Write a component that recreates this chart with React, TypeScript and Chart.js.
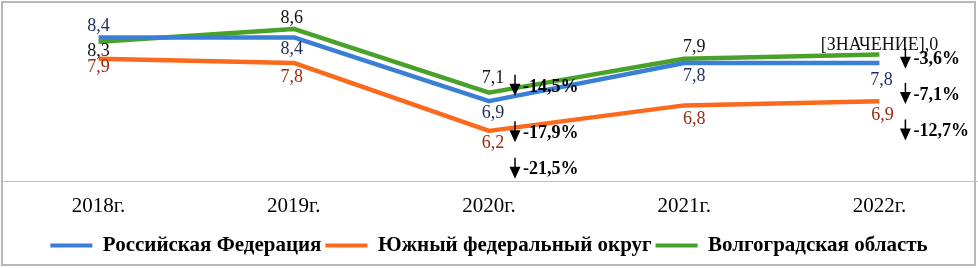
import React, { useEffect, useRef } from "react";
import { Chart, registerables } from "chart.js";

Chart.register(...registerables);

const FONT = "'Liberation Serif', 'Times New Roman', serif";

const CATEGORIES = ["2018г.", "2019г.", "2020г.", "2021г.", "2022г."];
const SERIES_NAMES = ["Российская Федерация", "Южный федеральный округ", "Волгоградская область"];

const RF_VALUES = [8.4, 8.4, 6.9, 7.8, 7.8];
const UFO_VALUES = [7.9, 7.8, 6.2, 6.8, 6.9];
const VOLG_VALUES = [8.3, 8.6, 7.1, 7.9, 8.0];

// data label texts (the last Volgograd label is broken in the source chart)
const RF_LABELS = ["8,4", "8,4", "6,9", "7,8", "7,8"];
const UFO_LABELS = ["7,9", "7,8", "6,2", "6,8", "6,9"];
const VOLG_LABELS = ["8,3", "8,6", "7,1", "7,9", "[ЗНАЧЕНИЕ],0"];

// change annotations: category index, text, value level
const CHANGE_CATEGORY = [2, 2, 2, 4, 4, 4];
const CHANGE_TEXT = ["-14,5%", "-17,9%", "-21,5%", "-3,6%", "-7,1%", "-12,7%"];
const CHANGE_LEVEL = [7.26, 6.17, 5.31, 7.9, 7.07, 6.21];

const Y_MIN = 5;
const Y_MAX = 9;

const COLORS = ["#3a7fd5", "#fb6a1c", "#49a12a"];
const LABEL_COLORS = ["#1f2d5e", "#962a12", "#111111"];

// label placement offsets (px) per series, per point
const LABEL_OFFSETS: number[][][] = [
  [[0, -11], [-2, 12], [4, 12], [10, 13], [2, 17]],
  [[0, 9], [-2, 14], [4, 12], [10, 14], [3, 14]],
  [[0, 10], [-2, -11], [4, -14], [10, -11], [0, -9]],
];

const labelPlugin = {
  id: "valueLabels",
  afterDatasetsDraw(chart: any) {
    const ctx = chart.ctx;
    const labelSets = [RF_LABELS, UFO_LABELS, VOLG_LABELS];
    ctx.save();
    ctx.font = `18px ${FONT}`;
    ctx.textAlign = "center";
    ctx.textBaseline = "middle";
    chart.data.datasets.forEach((ds: any, di: number) => {
      const meta = chart.getDatasetMeta(di);
      ctx.fillStyle = LABEL_COLORS[di];
      meta.data.forEach((pt: any, i: number) => {
        const [dx, dy] = LABEL_OFFSETS[di][i];
        ctx.fillText(labelSets[di][i], pt.x + dx, pt.y + dy);
      });
    });
    // change annotations with down arrows
    const xs = chart.scales.x;
    const ys = chart.scales.y;
    ctx.font = `bold 18px ${FONT}`;
    ctx.textAlign = "left";
    ctx.fillStyle = "#000";
    ctx.strokeStyle = "#000";
    ctx.lineWidth = 1.5;
    CHANGE_TEXT.forEach((t, k) => {
      const cx = xs.getPixelForValue(CHANGE_CATEGORY[k]) + 26;
      const cy = ys.getPixelForValue(CHANGE_LEVEL[k]);
      ctx.beginPath();
      ctx.moveTo(cx, cy - 11);
      ctx.lineTo(cx, cy);
      ctx.stroke();
      ctx.beginPath();
      ctx.moveTo(cx - 5.5, cy - 2);
      ctx.lineTo(cx + 5.5, cy - 2);
      ctx.lineTo(cx, cy + 10);
      ctx.closePath();
      ctx.fill();
      ctx.fillText(t, cx + 8, cy + 1);
    });
    ctx.restore();
  },
};

export default function App() {
  const ref = useRef<HTMLCanvasElement | null>(null);
  useEffect(() => {
    document.body.style.margin = "0";
    const seriesValues = [RF_VALUES, UFO_VALUES, VOLG_VALUES];
    const chart = new Chart(ref.current as HTMLCanvasElement, {
      type: "line",
      data: {
        labels: CATEGORIES,
        datasets: SERIES_NAMES.map((name, i) => ({
          label: name,
          data: seriesValues[i],
          borderColor: COLORS[i],
          backgroundColor: COLORS[i],
          borderWidth: 4.5,
          pointRadius: 0,
          tension: 0,
          borderCapStyle: "butt" as const,
          borderJoinStyle: "round" as const,
        })),
      },
      options: {
        animation: false,
        responsive: true,
        maintainAspectRatio: false,
        layout: { padding: { top: 12, left: 1, right: 1, bottom: 2 } },
        scales: {
          x: {
            offset: true,
            grid: { display: false, drawTicks: false },
            border: { display: true, color: "#bfbfbf", width: 1 },
            ticks: {
              font: { family: FONT, size: 21 },
              color: "#000",
              padding: 12,
              maxRotation: 0,
              autoSkip: false,
            },
          },
          y: { display: false, min: Y_MIN, max: Y_MAX },
        },
        plugins: {
          tooltip: { enabled: false },
          legend: {
            position: "bottom",
            labels: {
              boxWidth: 42,
              boxHeight: 4,
              padding: 4,
              color: "#000",
              font: { family: FONT, size: 21, weight: "bold" },
              generateLabels: (c: any) =>
                Chart.defaults.plugins.legend.labels
                  .generateLabels(c)
                  .map((it: any) => ({ ...it, lineWidth: 0, fillStyle: it.strokeStyle })),
            },
          },
        },
      },
      plugins: [labelPlugin],
    });
    return () => chart.destroy();
  }, []);
  return (
    <div style={{ position: "relative", width: 978, height: 268 }}>
      <canvas ref={ref} />
      <div
        style={{
          position: "absolute",
          left: 1,
          top: 1,
          width: 975,
          height: 265,
          boxSizing: "border-box",
          border: "2px solid #b8b8b8",
          pointerEvents: "none",
        }}
      />
    </div>
  );
}
